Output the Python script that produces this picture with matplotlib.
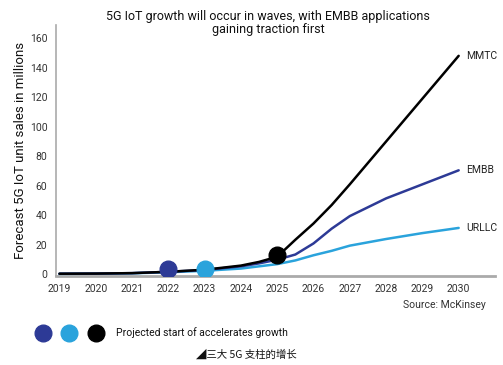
import matplotlib
matplotlib.use("Agg")
import matplotlib.pyplot as plt
from matplotlib.lines import Line2D

tick_years = [2019, 2020, 2021, 2022, 2023, 2024, 2025, 2026, 2027, 2028, 2029, 2030]
x_points = [2019, 2020, 2021, 2022, 2023, 2024, 2024.5, 2025, 2025.5, 2026, 2026.5, 2027, 2028, 2029, 2030]
mmtc = [0.5, 0.6, 0.9, 1.8, 3.2, 6.0, 8.5, 12.0, 23.5, 34.5, 47, 61, 90, 119, 148]
embb = [0.5, 0.6, 0.9, 1.8, 3.0, 5.5, 7.5, 10.0, 13.5, 21, 31, 39.5, 51.5, 61, 70.5]
urllc = [0.4, 0.5, 0.8, 1.5, 2.5, 4.0, 5.5, 7.0, 9.5, 13, 16, 19.5, 24, 28, 31.5]
series_names = ["MMTC", "EMBB", "URLLC"]
marker_years = [2022, 2023, 2025]
marker_values = [3.5, 3.5, 13.5]
y_ticks = [0, 20, 40, 60, 80, 100, 120, 140, 160]

c_mmtc = "#000000"
c_embb = "#2d3a96"
c_urllc = "#2aa3dc"

plt.rcParams['font.family'] = ['Roboto', 'DejaVu Sans']

fig = plt.figure(figsize=(5.03, 3.65), dpi=100)
ax = fig.add_axes([0.111, 0.244, 0.873, 0.688])

kw = dict(lw=1.8, solid_capstyle='round', solid_joinstyle='round')
ax.plot(x_points, urllc, color=c_urllc, zorder=3, **kw)
ax.plot(x_points, embb, color=c_embb, zorder=4, **kw)
ax.plot(x_points, mmtc, color=c_mmtc, zorder=5, **kw)

for yr, v, c in zip(marker_years, marker_values, [c_embb, c_urllc, c_mmtc]):
    ax.plot([yr], [v], 'o', color=c, markersize=12, zorder=6)

for name, vals in zip(series_names, [mmtc, embb, urllc]):
    ax.text(x_points[-1] + 0.2, vals[-1], name, fontsize=7.5, color="#222222",
            va='center', ha='left')

ax.set_xlim(2018.9, 2031.0)
ax.set_ylim(-1, 169)
ax.set_xticks(tick_years)
ax.set_yticks(y_ticks)
ax.tick_params(length=0, labelsize=7.5, labelcolor="#333333", pad=6)
for s in ['top', 'right']:
    ax.spines[s].set_visible(False)
ax.spines['left'].set_color('#aaaaaa')
ax.spines['left'].set_linewidth(1.2)
ax.spines['bottom'].set_color('#aaaaaa')
ax.spines['bottom'].set_linewidth(2)

ax.set_ylabel("Forecast 5G IoT unit sales in millions", fontsize=9.5, color="#111111", labelpad=2)

fig.text(0.533, 0.972, "5G IoT growth will occur in waves, with EMBB applications\ngaining traction first",
         ha='center', va='top', fontsize=9, color="#111111", linespacing=1.0)

fig.text(0.965, 0.165, "Source: McKinsey", ha='right', va='center', fontsize=7.5, color="#333333")

# legend row
for x, c in zip([0.085, 0.137, 0.19], [c_embb, c_urllc, c_mmtc]):
    fig.add_artist(Line2D([x], [0.088], marker='o', color=c, markersize=12, linestyle='none',
                          transform=fig.transFigure))
fig.text(0.231, 0.088, "Projected start of accelerates growth", ha='left', va='center',
         fontsize=7.5, color="#111111")

fig.text(0.49, 0.028, "◢三大 5G 支柱的增长", ha='center', va='center', fontsize=7.5,
         style='italic', color="#111111", family=['Noto Sans CJK SC', 'DejaVu Sans'])

fig.savefig("out.png", dpi=100, facecolor='white')
